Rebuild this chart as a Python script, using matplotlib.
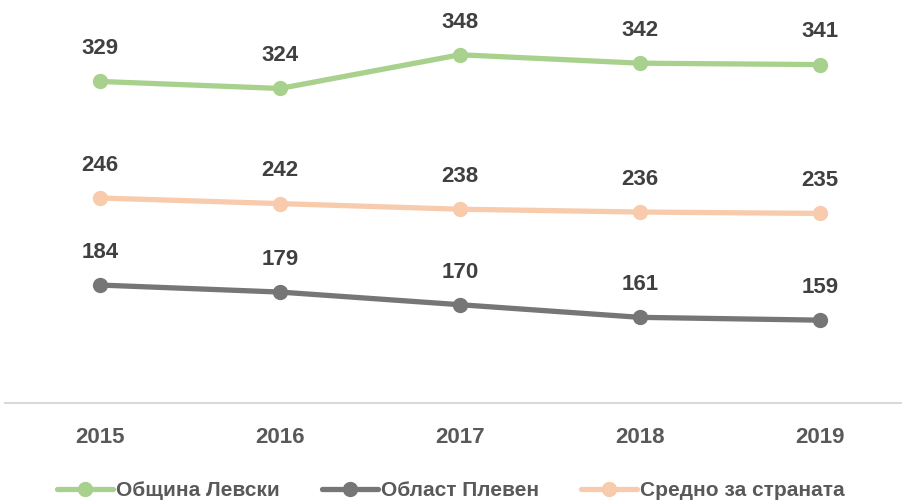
import matplotlib.pyplot as plt

years = ["2015", "2016", "2017", "2018", "2019"]
levski = [329, 324, 348, 342, 341]
pleven = [184, 179, 170, 161, 159]
country = [246, 242, 238, 236, 235]

series = [
    ("Община Левски", levski, "#A9D18E"),
    ("Област Плевен", pleven, "#767676"),
    ("Средно за страната", country, "#F8CBAD"),
]

plt.rcParams["font.family"] = ["Liberation Sans", "DejaVu Sans"]
label_color = "#404040"
axis_color = "#595959"

fig = plt.figure(figsize=(9.02, 5.0), dpi=100)
ax = fig.add_axes([0.0055, 0.194, 0.9945, 0.806])

x = range(len(years))
for name, vals, color in series:
    ax.plot(x, vals, color=color, lw=3.8, marker="o", markersize=10,
            solid_capstyle="round", label=name)
    for xi, v in zip(x, vals):
        ax.annotate(str(v), (xi, v), xytext=(0, 23.5), textcoords="offset points",
                    ha="center", va="center", fontsize=16, fontweight="bold",
                    color=label_color)

ax.set_xlim(-0.528, 4.456)
ax.set_ylim(100, 387)
ax.set_xticks(list(x))
ax.set_xticklabels(years, fontsize=16, fontweight="bold", color=axis_color)
ax.tick_params(axis="x", length=0, pad=17)
ax.set_yticks([])
for side in ["top", "right", "left"]:
    ax.spines[side].set_visible(False)
ax.spines["bottom"].set_color("#D9D9D9")
ax.spines["bottom"].set_linewidth(1.5)

leg = fig.legend(loc="center", bbox_to_anchor=(0.5, 0.018), ncol=3, frameon=False,
                 handlelength=2.7, handletextpad=0.15, columnspacing=2.0,
                 prop={"size": 15, "weight": "bold"})
for t in leg.get_texts():
    t.set_color(axis_color)

fig.savefig("out.png", dpi=100)
